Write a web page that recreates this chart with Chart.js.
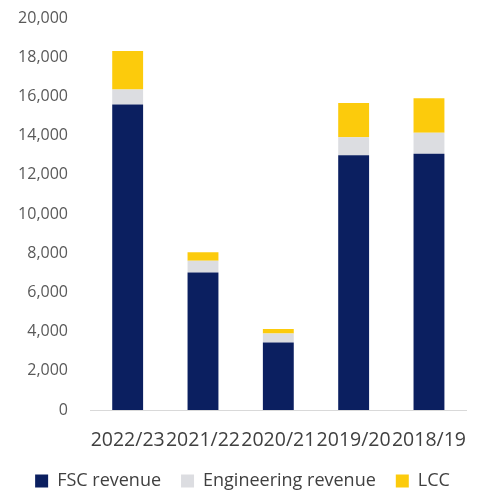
<!DOCTYPE html>
<html>
<head>
<meta charset="utf-8">
<script src="https://cdn.jsdelivr.net/npm/chart.js@4/dist/chart.umd.min.js"></script>
<style>
html,body{margin:0;padding:0;background:#fff;}
#wrap{width:485px;height:493px;position:relative;}
</style>
</head>
<body>
<div id="wrap"><canvas id="c"></canvas></div>
<script>
const categories = ["2022/23", "2021/22", "2020/21", "2019/20", "2018/19"];
const fscRevenue = [15590, 7020, 3440, 13000, 13070];
const engineeringRevenue = [760, 600, 460, 920, 1080];
const lcc = [1960, 430, 230, 1740, 1750];
const seriesNames = ["FSC revenue", "Engineering revenue", "LCC"];
const yTicks = [0, 2000, 4000, 6000, 8000, 10000, 12000, 14000, 16000, 18000, 20000];

const colors = ["#0b1f60", "#dcdde1", "#fccb0c"];

new Chart(document.getElementById('c'), {
  type: 'bar',
  data: {
    labels: categories,
    datasets: [
      {label: seriesNames[0], data: fscRevenue, backgroundColor: colors[0]},
      {label: seriesNames[1], data: engineeringRevenue, backgroundColor: colors[1]},
      {label: seriesNames[2], data: lcc, backgroundColor: colors[2]}
    ]
  },
  options: {
    responsive: true,
    maintainAspectRatio: false,
    animation: false,
    layout: {padding: {top: 18, right: 0, left: 0, bottom: -7}},
    datasets: {bar: {categoryPercentage: 1, barPercentage: 0.41}},
    plugins: {
      legend: {
        position: 'bottom',
        labels: {
          font: {family: "Open Sans", size: 18},
          color: '#404040',
          boxWidth: 13, boxHeight: 13,
          padding: 20
        }
      },
      tooltip: {enabled: false}
    },
    scales: {
      x: {
        stacked: true,
        afterFit: (s) => { s.height = 42; },
        grid: {display: false, drawTicks: false},
        border: {display: true, color: '#d9d9d9', width: 1},
        ticks: {font: {family: "Open Sans", size: 19.5}, color: '#404040', padding: 19, maxRotation: 0, autoSkip: false}
      },
      y: {
        stacked: true,
        min: 0, max: 20000,
        afterBuildTicks: (s) => { s.ticks = yTicks.map(v => ({value: v})); },
        afterFit: (s) => { s.width = 90; s.paddingTop = 0; s.paddingBottom = 0; },
        grid: {display: false, drawTicks: false},
        border: {display: false},
        ticks: {
          font: {family: "Open Sans", size: 16}, color: '#595959', padding: 22,
          callback: (v) => Number(v).toLocaleString('en-US')
        }
      }
    }
  }
});
</script>
</body>
</html>
